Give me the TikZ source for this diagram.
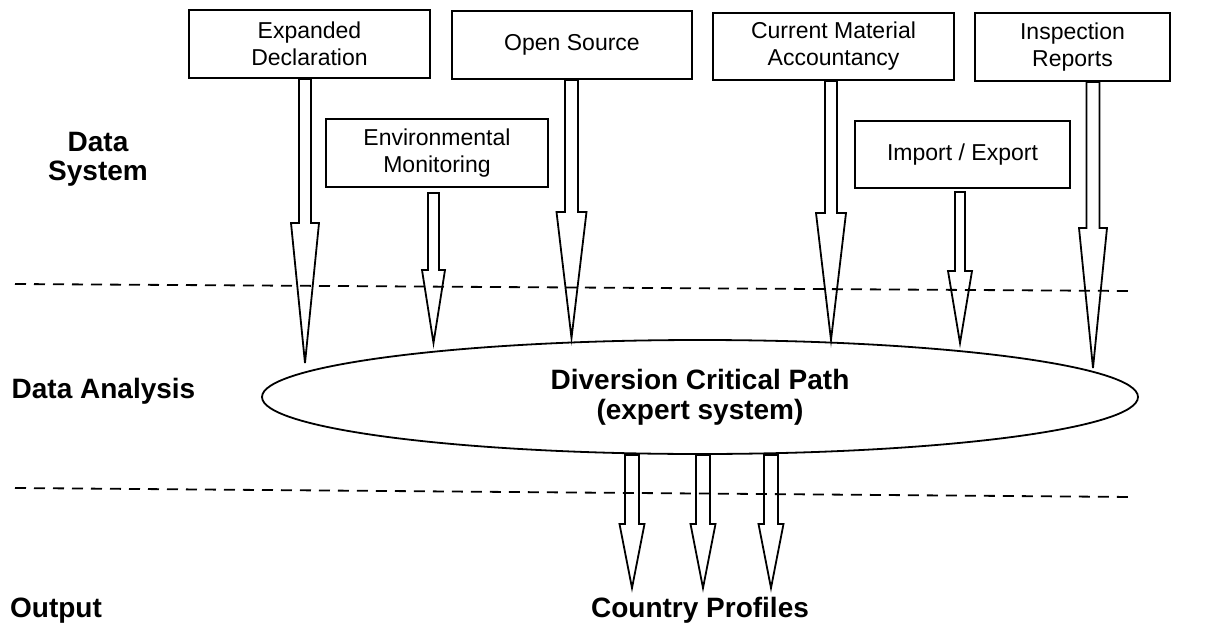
\documentclass[tikz,border=0pt]{standalone}
\usepackage{fontspec}
\setmainfont{Liberation Sans}
\usetikzlibrary{shapes.geometric,calc}
\tikzset{
  srcbox/.style={draw, line width=1.8pt, inner sep=0pt, align=center,
    font=\fontsize{23}{27}\selectfont},
  lbl/.style={font=\fontsize{28}{29}\selectfont\bfseries, align=center, inner sep=0pt},
  blk/.style={draw, line width=1.8pt, line join=miter},
  sep/.style={draw, line width=1.8pt, dash pattern=on 11pt off 8pt},
  core/.style={draw, ellipse, line width=1.8pt, inner sep=0pt, align=center,
    font=\fontsize{28}{30}\selectfont\bfseries}
}
% #1 start, #2 tip, #3 head length, #4 shaft half width, #5 head half width
\newcommand\blkarrow[5]{\draw[blk] let \p1=#1, \p2=#2 in
  (\x2-#4pt,\y1) -- (\x2-#4pt,\y2+#3pt) -- (\x2-#5pt,\y2+#3pt) -- (\x2,\y2)
  -- (\x2+#5pt,\y2+#3pt) -- (\x2+#4pt,\y2+#3pt) -- (\x2+#4pt,\y1) -- cycle;}
\begin{document}
\begin{tikzpicture}[x=1pt,y=-1pt]
\useasboundingbox (0,0) rectangle (1217,631);
% source boxes
\node[srcbox, minimum width=241pt, minimum height=68pt] (ed)  at (309.5,44)  {Expanded\\Declaration};
\node[srcbox, minimum width=240pt, minimum height=68pt] (os)  at (572,45)    {Open Source};
\node[srcbox, minimum width=222pt, minimum height=68pt] (em)  at (437,153)   {Environmental\\Monitoring};
\node[srcbox, minimum width=241pt, minimum height=67pt] (cma) at (833.5,46.5) {Current Material\\Accountancy};
\node[srcbox, minimum width=195pt, minimum height=68pt] (ir)  at (1072.5,47) {Inspection\\Reports};
\node[srcbox, minimum width=215pt, minimum height=67pt] (ie)  at (962.5,154.5) {Import / Export};
% central ellipse
\node[core, minimum width=876pt, minimum height=114pt] (dcp) at (700,397)
  {Diversion Critical Path\\(expert system)};
% layer labels
\node[lbl] (ds) at (98,159) {Data\\System};
\node[lbl, anchor=base] (da) at (103.5,398) {Data Analysis};
\node[lbl, anchor=base] (out) at (56,617) {Output};
\node[lbl, anchor=base] (cp) at (700,617) {Country Profiles};
% separators
\coordinate (s1a) at (15,284);  \coordinate (s1b) at (1132,291);
\coordinate (s2a) at (15,488);  \coordinate (s2b) at (1132,497);
\draw[sep] (s1a) -- (s1b);
\draw[sep] (s2a) -- (s2b);
% arrow tips
\coordinate (t1) at (305,363);
\coordinate (t2) at (433.5,343);
\coordinate (t3) at (571.5,338);
\coordinate (t4) at (831,340);
\coordinate (t5) at (960,343);
\coordinate (t6) at (1093,368);
\coordinate (u1) at (632,588);
\coordinate (u2) at (703,588);
\coordinate (u3) at (771,588);
\coordinate (emtop) at (433.5,193);
\coordinate (ietop) at (960,192);
% input arrows
\blkarrow{(ed.south -| t1)}{(t1)}{140}{6}{14}
\blkarrow{(emtop)}{(t2)}{73}{5.5}{11.5}
\blkarrow{(os.south -| t3)}{(t3)}{126}{6.5}{15}
\blkarrow{(cma.south -| t4)}{(t4)}{127}{6}{15}
\blkarrow{(ietop)}{(t5)}{72}{5}{12}
\blkarrow{(ir.south -| t6)}{(t6)}{140}{6.5}{14}
% output arrows
\blkarrow{(dcp.south -| u1)}{(u1)}{64}{7}{12.5}
\blkarrow{(dcp.south -| u2)}{(u2)}{64}{7}{12.5}
\blkarrow{(dcp.south -| u3)}{(u3)}{64}{7}{12.5}
\end{tikzpicture}
\end{document}
